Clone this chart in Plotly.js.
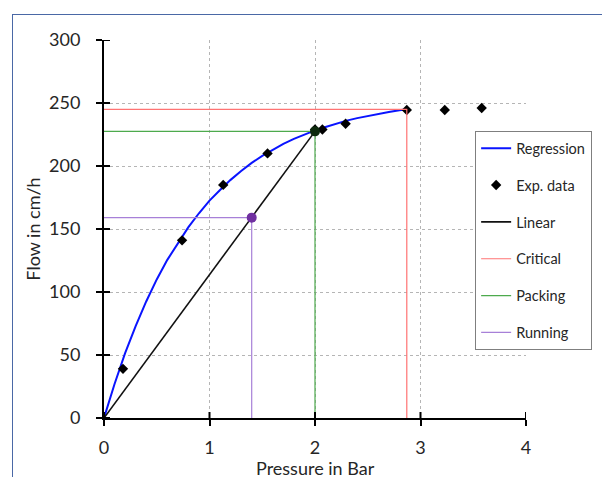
<!DOCTYPE html>
<html>
<head>
<meta charset="utf-8">
<script src="https://cdn.plot.ly/plotly-3.0.1.min.js"></script>
<style>
html,body{margin:0;padding:0;background:#fff;}
#wrap{position:relative;width:602px;height:477px;overflow:hidden;}
#chart{width:602px;height:477px;}
#frame{position:absolute;left:12px;top:14px;width:800px;height:800px;border-left:1.5px solid #4a68a6;border-top:1.5px solid #4a68a6;pointer-events:none;}
</style>
</head>
<body>
<div id="wrap"><div id="chart"></div><div id="frame"></div></div>
<script>
// Regression curve
const regX = [0,0.1,0.2,0.3,0.4,0.5,0.6,0.7,0.8,0.9,1.0,1.1,1.2,1.3,1.4,1.5,1.6,1.7,1.8,1.9,2.0,2.1,2.2,2.3,2.4,2.5,2.6,2.7,2.8,2.87];
const regY = [0,27,51.5,73,92.5,110,125.5,139,151.5,162.5,172.5,181,189,196,202.5,208,213,217.5,221.5,225,228.3,231,233.7,236,238,239.8,241.4,242.9,244.2,245];
// Experimental data
const expX = [0.18,0.74,1.13,1.55,2.0,2.07,2.29,2.87,3.23,3.58];
const expY = [39,141,185,210,229,229,233.5,244.5,244.5,246];
// Linear
const linX = [0,2.0];
const linY = [0,227.5];
// Critical / Packing / Running operating points
const critP = 2.87, critF = 245;
const packP = 2.0, packF = 227.5;
const runP = 1.40, runF = 159;
const xTicks = [0,1,2,3,4];
const yTicks = [0,50,100,150,200,250,300];
const xTitle = 'Pressure in Bar';
const yTitle = 'Flow in cm/h';

const F = 'Lato, "Open Sans", sans-serif';
const traces = [
  {x:regX, y:regY, mode:'lines', name:'Regression', line:{color:'#0a14ff', width:2}, legendgroup:'a'},
  {x:expX, y:expY, mode:'markers', name:'Exp. data', marker:{symbol:'diamond', size:8, color:'#000'}, legendgroup:'b'},
  {x:linX, y:linY, mode:'lines', name:'Linear', line:{color:'#111', width:1.6}, legendgroup:'c'},
  {x:[0,critP,critP], y:[critF,critF,0], mode:'lines', name:'Critical', line:{color:'#ff7373', width:1.2}, legendgroup:'d'},
  {x:[0,packP,packP], y:[packF,packF,0], mode:'lines', name:'Packing', line:{color:'#4daa4d', width:1.2}, legendgroup:'e'},
  {x:[0,runP,runP], y:[runF,runF,0], mode:'lines', name:'Running', line:{color:'#a780d8', width:1.2}, legendgroup:'f'},
  {x:[packP], y:[packF], mode:'markers', showlegend:false, marker:{symbol:'circle', size:10, color:'#0d2a0d'}},
  {x:[runP], y:[runF], mode:'markers', showlegend:false, marker:{symbol:'circle', size:10, color:'#7030a0'}}
];
// inner halves of the cross tick marks
const tickShapes = [];
xTicks.forEach(v => tickShapes.push({type:'line', xref:'x', yref:'paper', ysizemode:'pixel', yanchor:0,
  x0:v, x1:v, y0:0, y1:6, line:{color:'#000', width:2}, layer:'above'}));
yTicks.forEach(v => tickShapes.push({type:'line', yref:'y', xref:'paper', xsizemode:'pixel', xanchor:0,
  y0:v, y1:v, x0:0, x1:6, line:{color:'#000', width:2}, layer:'above'}));

const axCommon = {showgrid:true, gridcolor:'#b5b5b5', griddash:'dot', gridwidth:1, zeroline:false,
  showline:true, linecolor:'#000', linewidth:2, ticks:'outside', ticklen:6, tickwidth:2, tickcolor:'#000',
  tickfont:{family:F, size:18, color:'#262626'}};
const layout = {
  width:602, height:477,
  margin:{l:104, r:76, t:40, b:59, autoexpand:false},
  paper_bgcolor:'#fff', plot_bgcolor:'#fff',
  showlegend:true,
  shapes: tickShapes,
  annotations:[{text:xTitle, xref:'paper', yref:'paper', x:0.5, y:0, xanchor:'center', yanchor:'top', yshift:-37,
    showarrow:false, font:{family:F, size:18, color:'#262626'}}],
  xaxis: Object.assign({}, axCommon, {range:[0,4], tickvals:xTicks, ticktext:xTicks.map(String), ticklabelstandoff:6}),
  yaxis: Object.assign({}, axCommon, {range:[0,300], tickvals:yTicks, ticktext:yTicks.map(String), ticklabelstandoff:12,
    title:{text:yTitle, font:{family:F, size:18, color:'#262626'}, standoff:4}}),
  legend:{x:0.879, y:0.759, xanchor:'left', yanchor:'top', bgcolor:'#fff', bordercolor:'#7f7f7f', borderwidth:1.2,
    font:{family:F, size:14.5, color:'#262626'}, traceorder:'grouped', tracegroupgap:15, itemwidth:30}
};
Plotly.newPlot('chart', traces, layout, {staticPlot:true, displayModeBar:false});
</script>
</body>
</html>
